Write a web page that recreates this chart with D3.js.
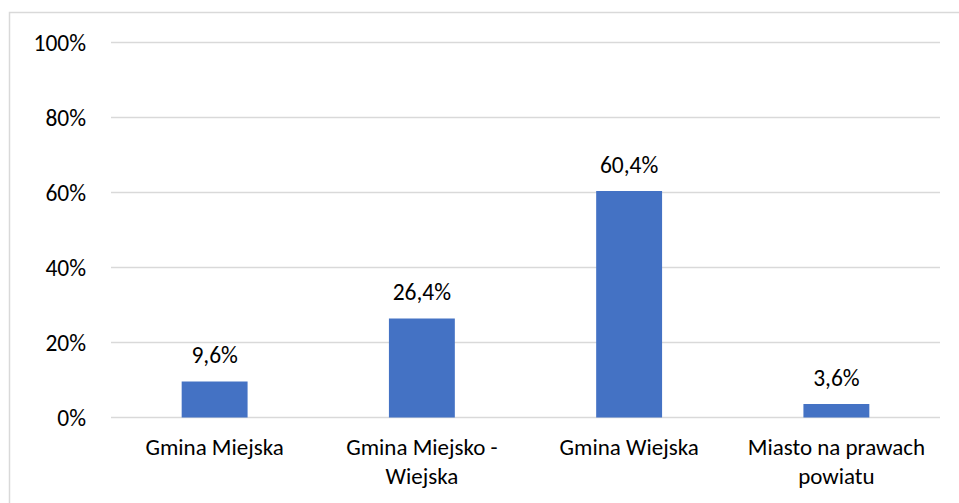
<!DOCTYPE html>
<html>
<head>
<meta charset="utf-8">
<script src="https://cdn.jsdelivr.net/npm/d3@7"></script>
<style>
  html, body { margin: 0; padding: 0; background: #fff; }
  svg { display: block; }
  text { font-family: Carlito, Calibri, Lato, "Noto Sans", sans-serif; fill: #000; }
</style>
</head>
<body>
<svg id="chart" width="959" height="503"></svg>
<script>
const categories = [["Gmina Miejska"], ["Gmina Miejsko -", "Wiejska"], ["Gmina Wiejska"], ["Miasto na prawach", "powiatu"]];
const values = [9.6, 26.4, 60.4, 3.6];
const valueLabels = ["9,6%", "26,4%", "60,4%", "3,6%"];
const yTicks = [0, 20, 40, 60, 80, 100];
const yTickLabels = ["0%", "20%", "40%", "60%", "80%", "100%"];

(function () {
const svg = d3.select("#chart");
const pL = 111, pR = 940, pT = 42.5, pB = 417.5;
const fs = 23.5;

// outer border
svg.append("rect").attr("x", 9.5).attr("y", 12.5).attr("width", 960).attr("height", 520)
  .attr("fill", "none").attr("stroke", "#d9d9d9").attr("stroke-width", 1.5);

const x = d3.scaleBand().domain(d3.range(categories.length)).range([pL, pR]).paddingInner(0.682).paddingOuter(0.341);
const y = d3.scaleLinear().domain([0, 100]).range([pB, pT]);

// gridlines
svg.append("g").selectAll("line").data(yTicks).join("line")
  .attr("x1", pL).attr("x2", pR)
  .attr("y1", d => y(d)).attr("y2", d => y(d))
  .attr("stroke", "#d9d9d9").attr("stroke-width", 1.3);

// y axis labels
const yAxis = d3.axisLeft(y).tickValues(yTicks).tickFormat((d, i) => yTickLabels[i]).tickSize(0).tickPadding(0);
const yg = svg.append("g").attr("transform", `translate(86,0)`).call(yAxis);
yg.select(".domain").remove();
yg.selectAll("text").attr("font-size", fs).attr("fill", "#000");

// bars
svg.append("g").selectAll("rect").data(values).join("rect")
  .attr("x", (d, i) => x(i)).attr("width", x.bandwidth())
  .attr("y", d => y(d)).attr("height", d => y(0) - y(d))
  .attr("fill", "#4472C4");

// value labels
svg.append("g").selectAll("text").data(values).join("text")
  .attr("x", (d, i) => x(i) + x.bandwidth() / 2)
  .attr("y", d => y(d) - 18.5)
  .attr("text-anchor", "middle").attr("font-size", fs)
  .text((d, i) => valueLabels[i]);

// category labels
const cg = svg.append("g").selectAll("text").data(categories).join("text")
  .attr("x", (d, i) => x(i) + x.bandwidth() / 2)
  .attr("y", 455)
  .attr("text-anchor", "middle").attr("font-size", fs - 0.5);
cg.selectAll("tspan").data(d => d).join("tspan")
  .attr("x", function() { return d3.select(this.parentNode).attr("x"); })
  .attr("dy", (d, i) => i === 0 ? 0 : 29)
  .text(d => d);
})();
</script>
</body>
</html>
